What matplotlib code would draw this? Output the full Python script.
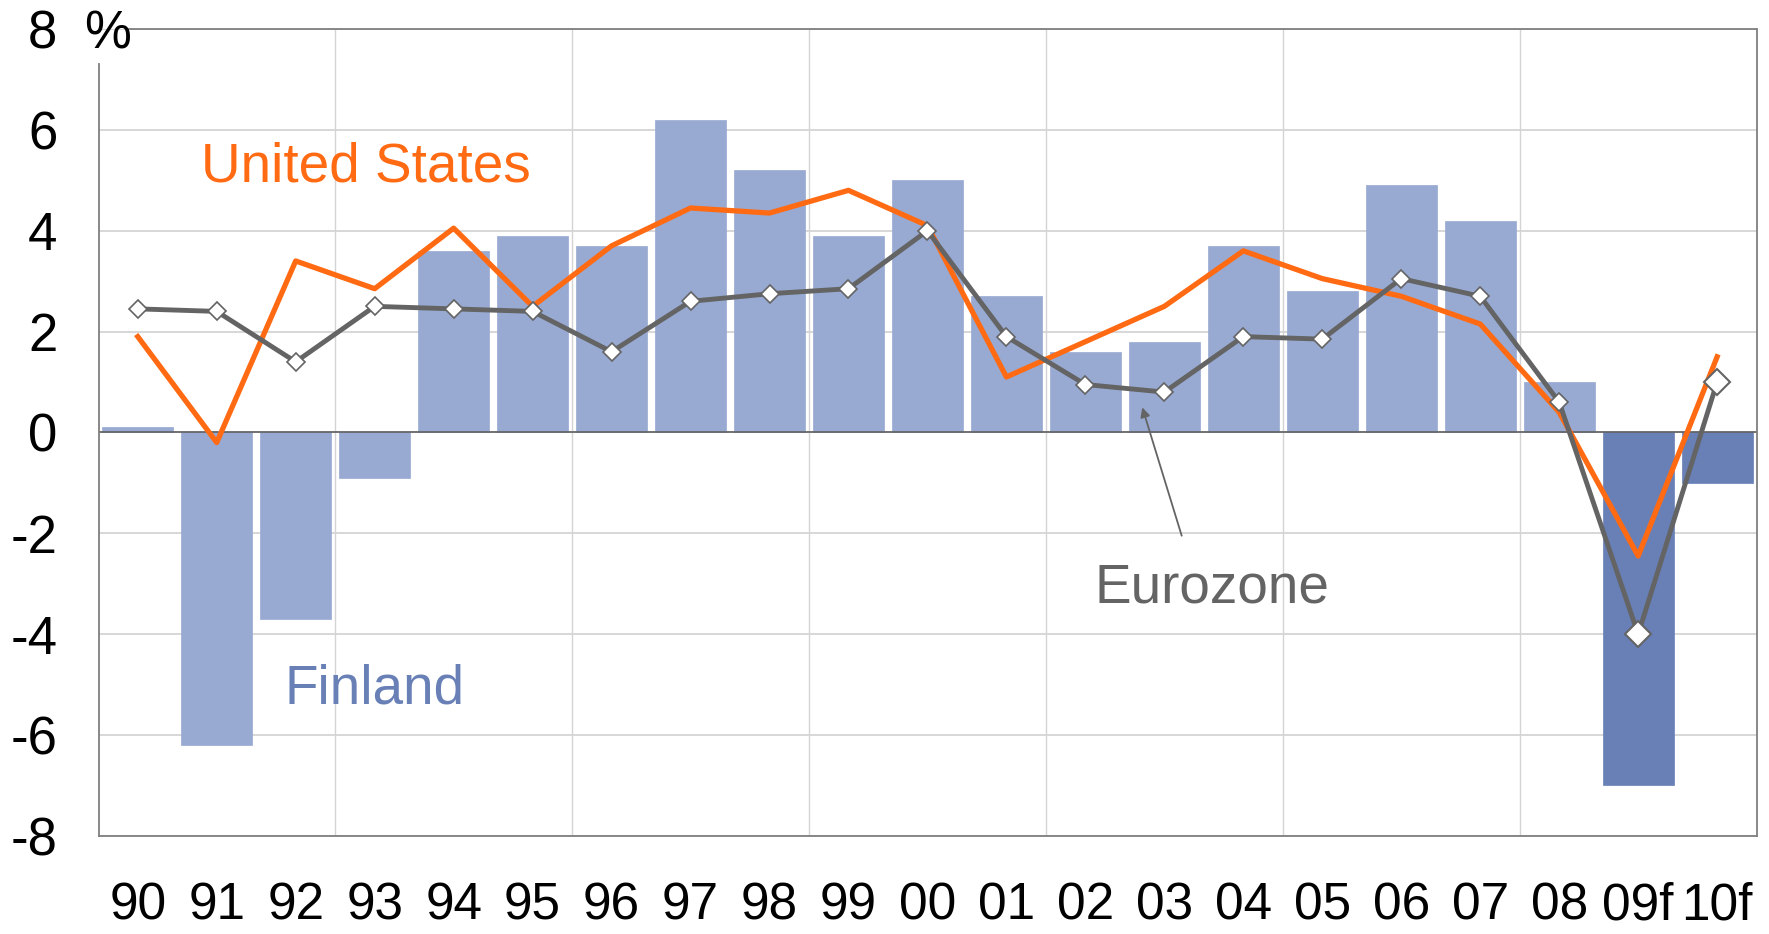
# =========================================================
#        GDP GROWTH: FINLAND vs EUROZONE vs UNITED STATES
# =========================================================

import numpy as np
import matplotlib.pyplot as plt

plt.rcParams["font.family"] = ["Liberation Sans", "DejaVu Sans"]

# =========================================================
# DATA
# =========================================================

years = [
    "90", "91", "92", "93", "94", "95", "96", "97", "98", "99", "00",
    "01", "02", "03", "04", "05", "06", "07", "08", "09f", "10f"
]

finland = [
    0.1, -6.2, -3.7, -0.9, 3.6, 3.9, 3.7, 6.2, 5.2, 3.9, 5.0,
    2.7, 1.6, 1.8, 3.7, 2.8, 4.9, 4.2, 1.0, -7.0, -1.0
]

eurozone = [
    2.45, 2.4, 1.4, 2.5, 2.45, 2.4, 1.6, 2.6, 2.75, 2.85, 4.0,
    1.9, 0.95, 0.8, 1.9, 1.85, 3.05, 2.7, 0.6, -4.0, 1.0
]

united_states = [
    1.9, -0.2, 3.4, 2.85, 4.05, 2.5, 3.7, 4.45, 4.35, 4.8, 4.1,
    1.1, 1.8, 2.5, 3.6, 3.05, 2.7, 2.15, 0.4, -2.45, 1.5
]

forecast = [False] * 19 + [True, True]

y_ticks = [-8, -6, -4, -2, 0, 2, 4, 6, 8]

# =========================================================
# COLOURS
# =========================================================

BAR_LIGHT = "#98AAD2"
BAR_DARK = "#6880B6"
ORANGE = "#FF6A13"
GREY = "#646464"

# =========================================================
# FIGURE
# =========================================================

fig = plt.figure(figsize=(17.69, 9.34), dpi=100)
ax = fig.add_axes([0.056, 0.105, 0.937, 0.864])

x = np.arange(len(years))

# bars
bar_colors = [BAR_DARK if f else BAR_LIGHT for f in forecast]

ax.bar(
    x,
    finland,
    width=0.9,
    color=bar_colors,
    edgecolor=bar_colors,
    linewidth=0.5,
    zorder=2
)

# united states
ax.plot(
    x,
    united_states,
    color=ORANGE,
    linewidth=3.8,
    zorder=3
)

# eurozone
ax.plot(
    x,
    eurozone,
    color=GREY,
    linewidth=3.5,
    zorder=4
)

ax.plot(
    x[:-2],
    eurozone[:-2],
    linestyle="none",
    marker="D",
    markersize=9,
    markerfacecolor="white",
    markeredgecolor=GREY,
    markeredgewidth=1.2,
    zorder=5
)

ax.plot(
    x[-2:],
    eurozone[-2:],
    linestyle="none",
    marker="D",
    markersize=13,
    markerfacecolor="white",
    markeredgecolor=GREY,
    markeredgewidth=1.5,
    zorder=5
)

# =========================================================
# AXES
# =========================================================

ax.set_xlim(-0.49, 20.5)
ax.set_ylim(-8, 8)

ax.set_yticks(y_ticks)
ax.set_yticklabels([str(v) for v in y_ticks])

ax.set_xticks(x)
ax.set_xticklabels(years)
ax.set_xticks(np.arange(2.5, 20, 3), minor=True)

ax.tick_params(axis="x", which="major", length=0, pad=33, labelsize=37)
ax.tick_params(axis="x", which="minor", length=0)
ax.tick_params(axis="y", length=0, pad=30, labelsize=38)

ax.grid(axis="y", color="#D4D4D4", linewidth=1.3, zorder=0)
ax.grid(axis="x", which="minor", color="#D4D4D4", linewidth=1.0, zorder=0)
ax.set_axisbelow(True)

for side in ["left", "right", "top", "bottom"]:
    ax.spines[side].set_color("#7F7F7F")
    ax.spines[side].set_linewidth(1.3)

ax.spines["left"].set_bounds(-8, 7.3)
ax.spines["top"].set_visible(False)
ax.hlines(8, -0.13, 20.5, color="#7F7F7F", linewidth=1.3, clip_on=False)

ax.axhline(0, color="#606060", linewidth=1.2, zorder=2.5)

# "%" next to the top tick
ax.text(
    -0.68, 8, "%",
    fontsize=38,
    ha="left",
    va="center_baseline",
    clip_on=False
)

# =========================================================
# LABELS
# =========================================================

ax.text(0.8, 5.25, "United States", color=ORANGE, fontsize=39.5, va="center")
ax.text(1.86, -5.1, "Finland", color=BAR_DARK, fontsize=39.5, va="center")
ax.text(12.11, -3.1, "Eurozone", color=GREY, fontsize=39.5, va="center")

ax.annotate(
    "",
    xy=(12.71, 0.55),
    xytext=(13.23, -2.1),
    arrowprops=dict(
        arrowstyle="-|>",
        color=GREY,
        linewidth=1.3,
        mutation_scale=14
    ),
    zorder=6
)

fig.savefig("out.png", dpi=100)
